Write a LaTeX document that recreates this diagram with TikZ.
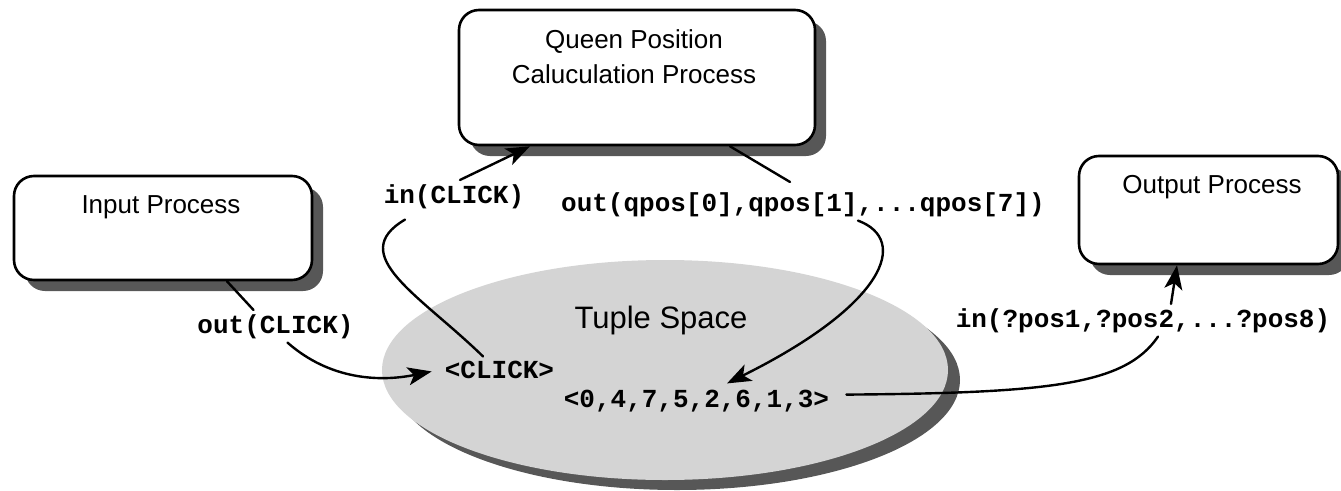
\documentclass[tikz,border=0pt]{standalone}
\usepackage{fontspec}
\setmainfont{Liberation Sans}
\setmonofont{Liberation Mono}
\usetikzlibrary{shapes.geometric,shadows,arrows.meta}
\definecolor{shadowgray}{HTML}{575757}
\definecolor{spacegray}{HTML}{D4D4D4}
\tikzset{
  procbox/.style={draw=black, line width=2.6pt, fill=white, rounded corners=20pt,
    inner sep=0pt,
    drop shadow={shadow xshift=11pt, shadow yshift=-11pt, fill=shadowgray, opacity=1}},
  proctitle/.style={font=\fontsize{26}{35}\selectfont, align=center, inner sep=0pt},
  tuplabel/.style={font=\fontsize{26}{30}\selectfont\ttfamily\bfseries, inner sep=4pt},
  opline/.style={line width=2.4pt, line cap=round},
  oparrow/.style={opline, -{Stealth[length=24pt, width=18pt, inset=6pt]}}
}
\begin{document}
\begin{tikzpicture}[x=1pt, y=-1pt]
\useasboundingbox (0,0) rectangle (1341,490);

% tuple space
\node[ellipse, fill=spacegray, minimum width=566pt, minimum height=220pt, inner sep=0pt,
  drop shadow={shadow xshift=12pt, shadow yshift=-10pt, fill=shadowgray, opacity=1}]
  (space) at (665,370) {};
\node[anchor=base, font=\fontsize{31}{36}\selectfont, inner sep=0pt] (spacetitle) at (661,328) {Tuple Space};

% processes
\node[procbox, minimum width=298pt, minimum height=104pt] (inbox) at (163,228) {};
\node[proctitle, anchor=base] (intitle) at (161,213) {Input Process};

\node[procbox, minimum width=356pt, minimum height=135pt] (queen) at (637,77.5) {};
\node[proctitle] (queentitle) at (634,57) {Queen Position\\Caluculation Process};

\node[procbox, minimum width=259pt, minimum height=108pt] (outbox) at (1208.5,210) {};
\node[proctitle, anchor=base] (outtitle) at (1212,193) {Output Process};

% tuples
\node[tuplabel, anchor=base] (click) at (499.5,378) {<CLICK>};
\node[tuplabel, anchor=base] (tuple) at (696.5,407) {<0,4,7,5,2,6,1,3>};

% operation labels
\node[tuplabel, anchor=base] (lblout) at (275.5,333) {out(CLICK)};
\node[tuplabel, anchor=base] (lblin) at (454,203) {in(CLICK)};
\node[tuplabel, anchor=base] (lblqpos) at (803,211) {out(qpos[0],qpos[1],...qpos[7])};
\node[tuplabel, anchor=base] (lblpos) at (1143,327) {in(?pos1,?pos2,...?pos8)};

% out(CLICK)
\draw[opline] ([xshift=64pt]inbox.south) -- ([xshift=-22pt]lblout.north);
\draw[oparrow] ([xshift=12pt]lblout.south) .. controls (330,380) and (380,382) .. ([xshift=-9pt,yshift=-2pt]click.west);

% in(CLICK)
\draw[opline] ([xshift=-16.5pt]click.north) .. controls (420,295) and (345,255) .. ([xshift=-49pt,yshift=-7pt]lblin.south);
\draw[oparrow] ([xshift=6pt]lblin.north) -- ([xshift=-107pt]queen.south);

% out(qpos[...])
\draw[opline] ([xshift=93pt]queen.south) -- ([xshift=-13pt,yshift=6pt]lblqpos.north);
\draw[oparrow] ([xshift=55pt]lblqpos.south) .. controls (910,240) and (885,305) .. ([xshift=30.5pt,yshift=2pt]tuple.north);

% in(?pos...)
\draw[opline] ([xshift=13pt,yshift=6pt]tuple.east) .. controls (1050,393) and (1125,385) .. ([xshift=15pt]lblpos.south);
\draw[oparrow] ([xshift=28pt]lblpos.north) -- ([xshift=-31.5pt]outbox.south);
\end{tikzpicture}
\end{document}
